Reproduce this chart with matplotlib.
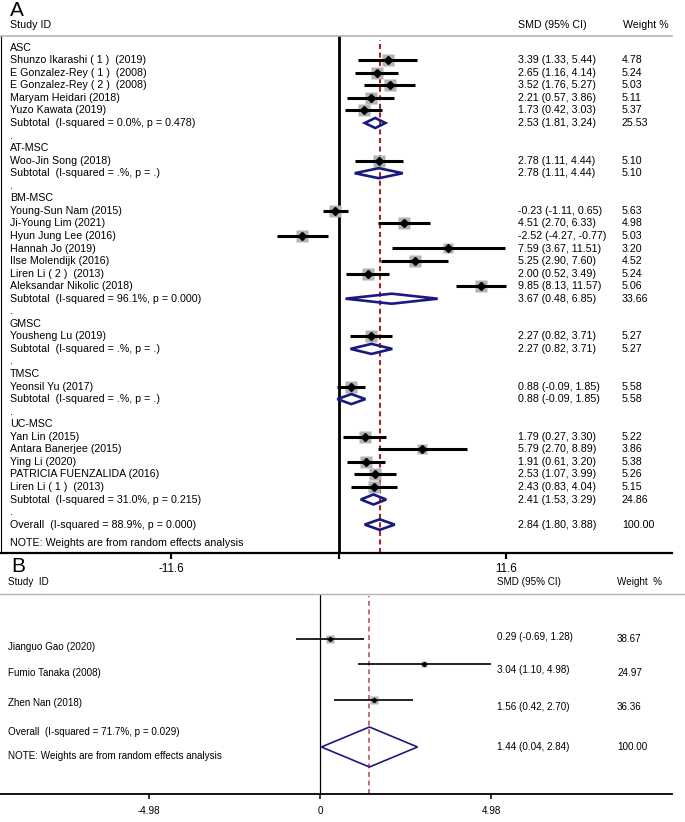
import matplotlib

matplotlib.use("Agg")
import matplotlib.pyplot as plt
import numpy as np
from matplotlib import font_manager, transforms
from matplotlib.patches import Polygon

# ---- panel A data ----
A_GROUPS = ["ASC", "AT-MSC", "BM-MSC", "GMSC", "TMSC", "UC-MSC"]
A_STUDY = [
    "Shunzo Ikarashi ( 1 )  (2019)", "E Gonzalez-Rey ( 1 )  (2008)", "E Gonzalez-Rey ( 2 )  (2008)",
    "Maryam Heidari (2018)", "Yuzo Kawata (2019)",
    "Woo-Jin Song (2018)",
    "Young-Sun Nam (2015)", "Ji-Young Lim (2021)", "Hyun Jung Lee (2016)", "Hannah Jo (2019)",
    "Ilse Molendijk (2016)", "Liren Li ( 2 )  (2013)", "Aleksandar Nikolic (2018)",
    "Yousheng Lu (2019)",
    "Yeonsil Yu (2017)",
    "Yan Lin (2015)", "Antara Banerjee (2015)", "Ying Li (2020)", "PATRICIA FUENZALIDA (2016)",
    "Liren Li ( 1 )  (2013)",
]
A_GROUP_OF = [0, 0, 0, 0, 0, 1, 2, 2, 2, 2, 2, 2, 2, 3, 4, 5, 5, 5, 5, 5]
A_SMD = [3.39, 2.65, 3.52, 2.21, 1.73, 2.78, -0.23, 4.51, -2.52, 7.59, 5.25, 2.00, 9.85,
         2.27, 0.88, 1.79, 5.79, 1.91, 2.53, 2.43]
A_LO = [1.33, 1.16, 1.76, 0.57, 0.42, 1.11, -1.11, 2.70, -4.27, 3.67, 2.90, 0.52, 8.13,
        0.82, -0.09, 0.27, 2.70, 0.61, 1.07, 0.83]
A_HI = [5.44, 4.14, 5.27, 3.86, 3.03, 4.44, 0.65, 6.33, -0.77, 11.51, 7.60, 3.49, 11.57,
        3.71, 1.85, 3.30, 8.89, 3.20, 3.99, 4.04]
A_WEIGHT = [4.78, 5.24, 5.03, 5.11, 5.37, 5.10, 5.63, 4.98, 5.03, 3.20, 4.52, 5.24, 5.06,
            5.27, 5.58, 5.22, 3.86, 5.38, 5.26, 5.15]

A_SUB_HET = ["(I-squared = 0.0%, p = 0.478)", "(I-squared = .%, p = .)",
             "(I-squared = 96.1%, p = 0.000)", "(I-squared = .%, p = .)",
             "(I-squared = .%, p = .)", "(I-squared = 31.0%, p = 0.215)"]
A_SUB_SMD = [2.53, 2.78, 3.67, 2.27, 0.88, 2.41]
A_SUB_LO = [1.81, 1.11, 0.48, 0.82, -0.09, 1.53]
A_SUB_HI = [3.24, 4.44, 6.85, 3.71, 1.85, 3.29]
A_SUB_WEIGHT = [25.53, 5.10, 33.66, 5.27, 5.58, 24.86]

A_OVERALL_HET = "(I-squared = 88.9%, p = 0.000)"
A_OVERALL = (2.84, 1.80, 3.88, 100.00)
A_TICKS = [-11.6, 0, 11.6]
A_TICK_LABELS = ["-11.6", "", "11.6"]

# ---- panel B data ----
B_STUDY = ["Jianguo Gao (2020)", "Fumio Tanaka (2008)", "Zhen Nan (2018)"]
B_SMD = [0.29, 3.04, 1.56]
B_LO = [-0.69, 1.10, 0.42]
B_HI = [1.28, 4.98, 2.70]
B_WEIGHT = [38.67, 24.97, 36.36]
B_OVERALL_HET = "(I-squared = 71.7%, p = 0.029)"
B_OVERALL = (1.44, 0.04, 2.84, 100.00)
B_TICKS = [-4.98, 0, 4.98]
B_TICK_LABELS = ["-4.98", "0", "4.98"]

NOTE = "NOTE: Weights are from random effects analysis"

GREY_BOX = "#b3b3b3"
NAVY = "#1a1a7e"
RED_A = "#a3262b"
RED_B = "#b5474c"
HEADER_LINE = "#b4b4b4"

plt.rcParams["font.family"] = ["Liberation Sans", "DejaVu Sans"]
installed = {f.name for f in font_manager.fontManager.ttflist}
if "Liberation Sans Narrow" in installed:
    NARROW, FS_B = ["Liberation Sans Narrow", "DejaVu Sans"], 8.3
else:
    NARROW, FS_B = ["Liberation Sans", "DejaVu Sans"], 7.1
FS_A = 7.7

W, H = 685, 822
fig = plt.figure(figsize=(W / 100, H / 100), dpi=100)


def fx(px):
    return px / W


def fy(py):
    return 1 - py / H


def fmt_ci(smd, lo, hi):
    return f"{smd:.2f} ({lo:.2f}, {hi:.2f})"


def diamond(ax, smd, lo, hi, y, half, lw):
    ax.add_patch(Polygon([(lo, y), (smd, y - half), (hi, y), (smd, y + half)], closed=True,
                         fill=False, edgecolor=NAVY, lw=lw, joinstyle="miter", zorder=4))


# ================= panel A =================
A_ZERO_PX, A_PX_UNIT = 338.65, 14.45
A_ROW0, A_ROW = 47.7, 12.55
a_left, a_right, a_top, a_bottom = 1, 672, 36, 553
axA = fig.add_axes([fx(a_left), fy(a_bottom), (a_right - a_left) / W, (a_bottom - a_top) / H])
axA.set_xlim((a_left - A_ZERO_PX) / A_PX_UNIT, (a_right - A_ZERO_PX) / A_PX_UNIT)
axA.set_ylim((a_bottom - A_ROW0) / A_ROW, (a_top - A_ROW0) / A_ROW)
trA = transforms.blended_transform_factory(fig.transFigure, axA.transData)

col_name, col_ci, col_w = fx(10), fx(517.7), fx(622)


def a_text(row, name, ci="", w=""):
    axA.text(col_name, row, name, transform=trA, va="center", fontsize=FS_A)
    if ci:
        axA.text(col_ci, row, ci, transform=trA, va="center", fontsize=FS_A)
        axA.text(col_w, row, w, transform=trA, va="center", fontsize=FS_A)


row = 0
for g, gname in enumerate(A_GROUPS):
    if g > 0:
        a_text(row, ".")
        row += 1
    a_text(row, gname)
    row += 1
    for i, gi in enumerate(A_GROUP_OF):
        if gi != g:
            continue
        side = 5.2 * np.sqrt(A_WEIGHT[i]) * 0.72
        axA.plot(A_SMD[i], row, marker="s", ms=side, color=GREY_BOX, mec="none", zorder=2)
        axA.plot([A_LO[i], A_HI[i]], [row, row], color="k", lw=2.2, solid_capstyle="butt", zorder=3)
        axA.plot(A_SMD[i], row, marker="D", ms=3.7, color="k", mec="k", zorder=4)
        a_text(row, A_STUDY[i], fmt_ci(A_SMD[i], A_LO[i], A_HI[i]), f"{A_WEIGHT[i]:.2f}")
        row += 1
    diamond(axA, A_SUB_SMD[g], A_SUB_LO[g], A_SUB_HI[g], row, 0.4, 1.9)
    a_text(row, "Subtotal  " + A_SUB_HET[g], fmt_ci(A_SUB_SMD[g], A_SUB_LO[g], A_SUB_HI[g]),
           f"{A_SUB_WEIGHT[g]:.2f}")
    row += 1
a_text(row, ".")
row += 1
diamond(axA, A_OVERALL[0], A_OVERALL[1], A_OVERALL[2], row, 0.42, 1.9)
a_text(row, "Overall  " + A_OVERALL_HET, fmt_ci(*A_OVERALL[:3]), f"{A_OVERALL[3]:.2f}")
a_text(row + 1.5, NOTE)

axA.axvline(0, color="k", lw=2, zorder=1)
axA.axvline(A_OVERALL[0], ymax=0.992, color=RED_A, lw=1.5, ls=(0, (2.4, 1.7)), zorder=1.5)

for side_name in ("top", "right"):
    axA.spines[side_name].set_visible(False)
axA.spines["left"].set_linewidth(0.8)
axA.spines["bottom"].set_linewidth(1.6)
axA.set_yticks([])
axA.set_xticks(A_TICKS)
axA.set_xticklabels(A_TICK_LABELS)
axA.tick_params(axis="x", direction="out", length=4, width=1.6, pad=3.5, labelsize=8.4)

fig.add_artist(plt.Line2D([0, fx(a_right)], [fy(a_top), fy(a_top)], color=HEADER_LINE, lw=1.2))
fig.text(fx(10), fy(11), "A", fontsize=15, va="center")
fig.text(fx(10), fy(25), "Study ID", fontsize=FS_A, va="center")
fig.text(col_ci, fy(25), "SMD (95% CI)", fontsize=FS_A, va="center")
fig.text(fx(622.7), fy(25), "Weight %", fontsize=FS_A, va="center")

# ================= panel B =================
B_ZERO_PX, B_PX_UNIT = 320, 34.34
b_top, b_bottom, b_axis_end = 594, 794, 672
B_ROW_PX = [639, 664, 700]          # bar rows
B_NAME_PX = [647, 673, 703]
B_CI_PX = [637, 670, 706.7]
B_W_PX = [639, 673, 706.7]
B_OVERALL_PX = 747

axB = fig.add_axes([0, fy(b_bottom), 1, (b_bottom - b_top) / H])
axB.set_xlim(-B_ZERO_PX / B_PX_UNIT, (W - B_ZERO_PX) / B_PX_UNIT)
axB.set_ylim(b_bottom, b_top)
trB = transforms.blended_transform_factory(fig.transFigure, axB.transData)


def b_text(x, y, s):
    axB.text(x, y, s, transform=trB, va="center", fontsize=FS_B, family=NARROW)


for i, name in enumerate(B_STUDY):
    y = B_ROW_PX[i]
    side = 1.3 * np.sqrt(B_WEIGHT[i]) * 0.72
    axB.plot(B_SMD[i], y, marker="s", ms=side, color=GREY_BOX, mec="none", zorder=2)
    axB.plot([B_LO[i], B_HI[i]], [y, y], color="k", lw=1.2, solid_capstyle="butt", zorder=3)
    axB.plot(B_SMD[i], y, marker="D", ms=2.2, color="k", zorder=4)
    b_text(fx(8), B_NAME_PX[i], name)
    b_text(fx(497), B_CI_PX[i], fmt_ci(B_SMD[i], B_LO[i], B_HI[i]))
    b_text(fx(617), B_W_PX[i], f"{B_WEIGHT[i]:.2f}")

diamond(axB, B_OVERALL[0], B_OVERALL[1], B_OVERALL[2], B_OVERALL_PX, 20, 1.2)
b_text(fx(8), 731.7, "Overall  " + B_OVERALL_HET)
b_text(fx(497), B_OVERALL_PX, fmt_ci(*B_OVERALL[:3]))
b_text(fx(617), B_OVERALL_PX, f"{B_OVERALL[3]:.2f}")
b_text(fx(8), 756, NOTE)

axB.axvline(0, color="k", lw=0.9, zorder=1)
axB.axvline(B_OVERALL[0], ymax=0.99, color=RED_B, lw=1.1, ls=(0, (3.2, 2.4)), zorder=1.5)

for side_name in ("left", "right"):
    axB.spines[side_name].set_visible(False)
axB.spines["top"].set_color(HEADER_LINE)
axB.spines["top"].set_linewidth(1.0)
axB.spines["bottom"].set_linewidth(1.3)
axB.spines["bottom"].set_bounds(-B_ZERO_PX / B_PX_UNIT, (b_axis_end - B_ZERO_PX) / B_PX_UNIT)
axB.set_yticks([])
axB.set_xticks(B_TICKS)
axB.set_xticklabels(B_TICK_LABELS, family=NARROW)
axB.tick_params(axis="x", direction="out", length=3.5, width=1.1, pad=5, labelsize=FS_B)

fig.text(fx(11), fy(566), "B", fontsize=15, va="center")
fig.text(fx(8), fy(582), "Study  ID", fontsize=FS_B, va="center", family=NARROW)
fig.text(fx(497), fy(582), "SMD (95% CI)", fontsize=FS_B, va="center", family=NARROW)
fig.text(fx(617), fy(582), "Weight  %", fontsize=FS_B, va="center", family=NARROW)

fig.savefig("out.png", dpi=100)
plt.close(fig)
